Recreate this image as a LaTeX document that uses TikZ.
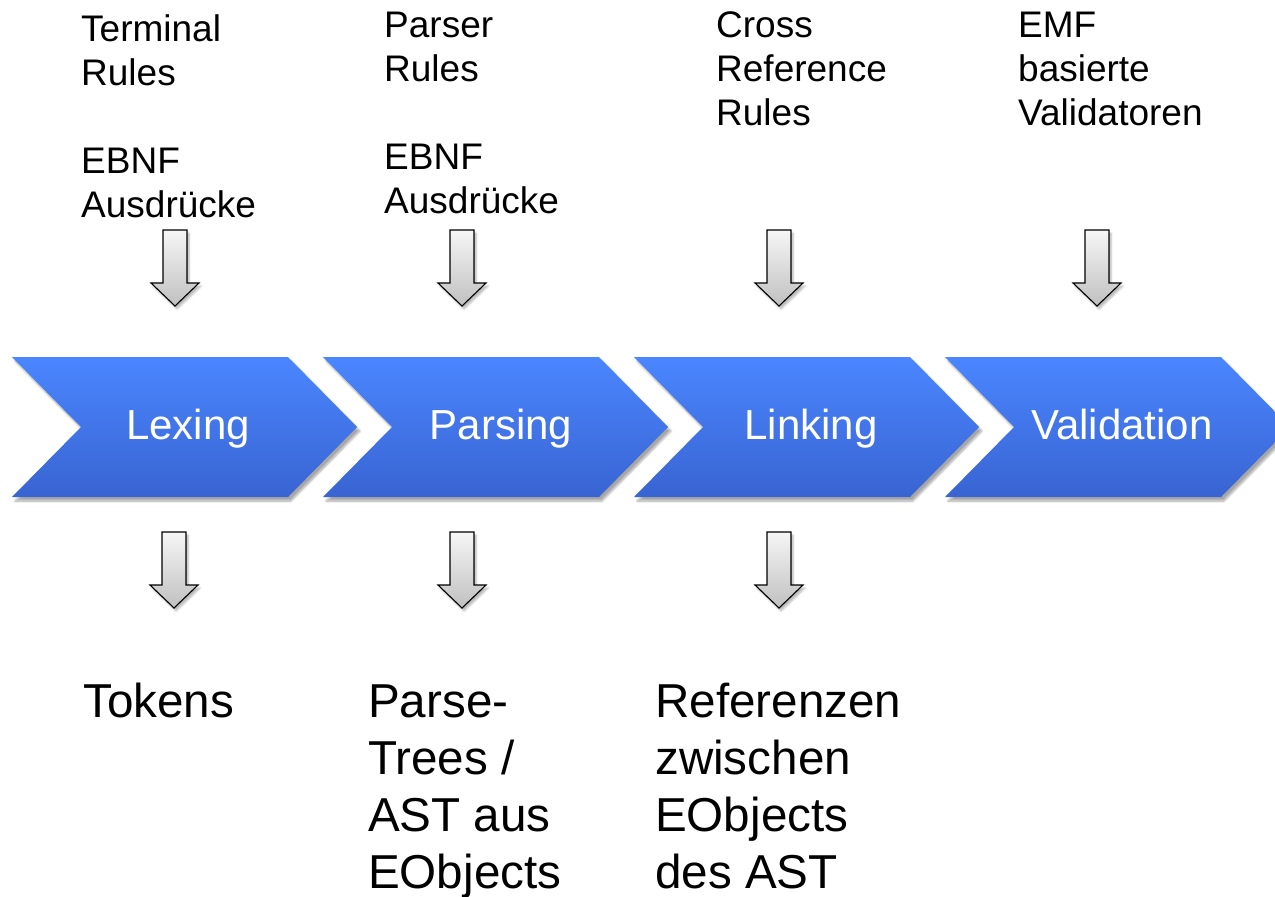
\documentclass[tikz,border=0pt]{standalone}
\usepackage{fontspec}
\setmainfont{Liberation Sans}
\usetikzlibrary{shadows.blur}
\definecolor{chevtop}{RGB}{74,134,255}
\definecolor{chevbot}{RGB}{57,100,210}
\definecolor{arrtop}{RGB}{246,246,246}
\definecolor{arrbot}{RGB}{192,192,192}
\begin{document}
\begin{tikzpicture}[x=1pt,y=-1pt,
  chevron/.style={top color=chevtop,bottom color=chevbot,
    blur shadow={shadow xshift=3pt,shadow yshift=-4pt,shadow blur steps=8,shadow opacity=35}},
  blockarrow/.style={draw=black,line width=1.1pt,line join=miter,top color=arrtop,bottom color=arrbot,
    blur shadow={shadow xshift=2pt,shadow yshift=-3pt,shadow blur steps=5,shadow opacity=30}},
  toptext/.style={anchor=base west,inner sep=0pt,align=left,font=\fontsize{37}{44}\selectfont},
  bottext/.style={anchor=base west,inner sep=0pt,align=left,font=\fontsize{47.6}{57}\selectfont},
  chevtext/.style={anchor=base,inner sep=0pt,text=white,font=\fontsize{42}{50}\selectfont}]
\useasboundingbox (0,0) rectangle (1275,897);
\clip (0,0) rectangle (1275,897);

% chevrons
\foreach \x in {12,323,634,945}{
  \path[chevron] (\x,357) -- (\x+276,357) -- (\x+345,427) -- (\x+276,497) -- (\x,497) -- (\x+69,427) -- cycle;
}
\node[chevtext] (lexing) at (188,439) {Lexing};
\node[chevtext] (parsing) at (501,439) {Parsing};
\node[chevtext] (linking) at (811,439) {Linking};
\node[chevtext] (validation) at (1122,439) {Validation};

% top inputs (anchor = baseline of last line)
\node[toptext] (in1) at (81,217) {Terminal\\Rules\\[44pt]EBNF\\Ausdrücke};
\node[toptext] (in2) at (384,213) {Parser\\Rules\\[44pt]EBNF\\Ausdrücke};
\node[toptext] (in3) at (716,125) {Cross\\Reference\\Rules};
\node[toptext] (in4) at (1018,125) {EMF\\basierte\\Validatoren};

% outputs
\node[bottext] (out1) at (83,717) {Tokens};
\node[bottext] (out2) at (368,888) {Parse-\\Trees /\\AST aus\\EObjects};
\node[bottext] (out3) at (655,888) {Referenzen\\zwischen\\EObjects\\des AST};

% block arrows
\foreach \cx in {175,462,779,1097}{
  \path[blockarrow] (\cx-12,230) -- (\cx+12,230) -- (\cx+12,283) -- (\cx+24,283) -- (\cx,306) -- (\cx-24,283) -- (\cx-12,283) -- cycle;
}
\foreach \cx in {174,462,779}{
  \path[blockarrow] (\cx-12,532) -- (\cx+12,532) -- (\cx+12,585) -- (\cx+24,585) -- (\cx,608) -- (\cx-24,585) -- (\cx-12,585) -- cycle;
}
\end{tikzpicture}
\end{document}
